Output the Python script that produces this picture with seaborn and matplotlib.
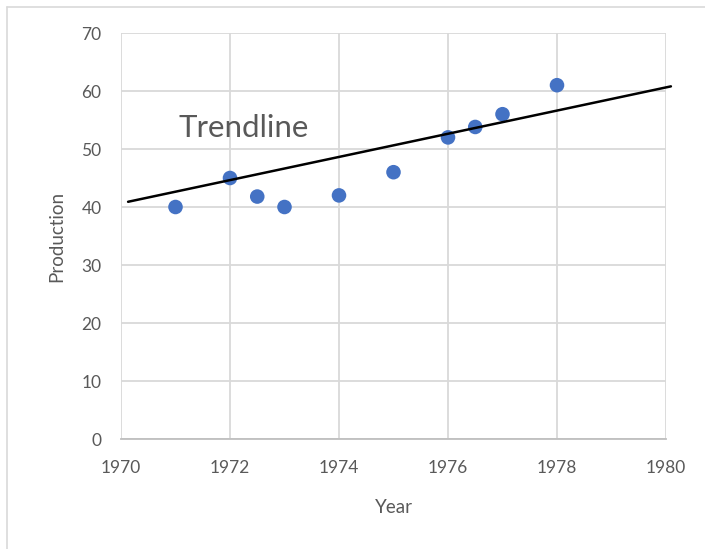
import matplotlib
matplotlib.use("Agg")
import matplotlib.pyplot as plt
from matplotlib.lines import Line2D
import seaborn as sns
import pandas as pd

years = [1971, 1972, 1972.5, 1973, 1974, 1975, 1976, 1976.5, 1977, 1978]
production = [40, 45, 41.8, 40, 42, 46, 52, 53.8, 56, 61]
trend_x = [1970.13, 1980.09]
trend_y = [40.9, 60.8]
x_ticks = [1970, 1972, 1974, 1976, 1978, 1980]
y_ticks = [0, 10, 20, 30, 40, 50, 60, 70]
annotation = "Trendline"

sns.set_theme(style="white")
plt.rcParams['font.family'] = ['Lato', 'DejaVu Sans']

df = pd.DataFrame({"Year": years, "Production": production})

fig = plt.figure(figsize=(7.05, 5.49), dpi=100)
ax = fig.add_axes([121/705, 1 - 439/549, (666-121)/705, (439-33)/549])

sns.scatterplot(data=df, x="Year", y="Production", ax=ax, color="#4472C4",
                s=110, edgecolor="none", zorder=3)
ax.plot(trend_x, trend_y, color="black", lw=1.8, zorder=4, clip_on=False)

ax.set_xlim(1970, 1980)
ax.set_ylim(0, 70)
ax.set_xticks(x_ticks)
ax.set_yticks(y_ticks)
ax.grid(True, color="#d9d9d9", lw=1.3)
ax.set_axisbelow(True)
for side in ["top", "right", "left"]:
    ax.spines[side].set_visible(False)
ax.spines["bottom"].set_color("#bfbfbf")
ax.spines["bottom"].set_linewidth(1.3)
ax.tick_params(axis="x", length=0, pad=15, labelsize=12.5, labelcolor="#595959")
ax.tick_params(axis="y", length=0, pad=14, labelsize=12.5, labelcolor="#595959")
ax.set_xlabel("Year", fontsize=13.5, color="#595959", labelpad=17)
ax.set_ylabel("Production", fontsize=13.5, color="#595959", labelpad=12)

ax.text(1971.05, 53.6, annotation, fontsize=22.5, color="#595959", va="center", ha="left")

fig.add_artist(Line2D([7/705, 1], [1 - 7/549, 1 - 7/549], color="#d9d9d9", lw=1.2,
                      transform=fig.transFigure))
fig.add_artist(Line2D([7/705, 7/705], [0, 1 - 7/549], color="#d9d9d9", lw=1.2,
                      transform=fig.transFigure))

fig.savefig("out.png", dpi=100, facecolor="white")
